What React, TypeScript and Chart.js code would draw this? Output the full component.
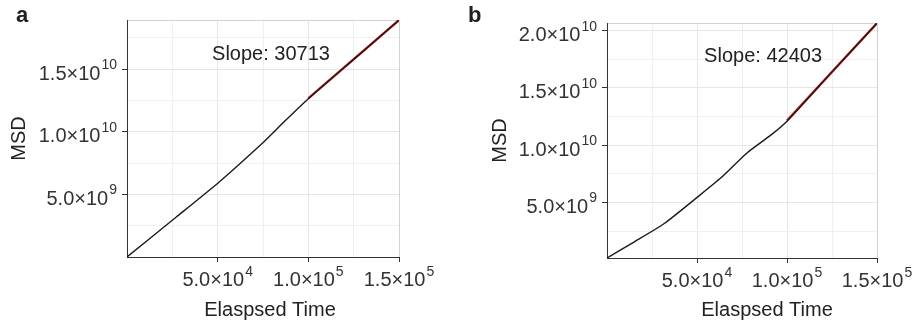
import React, { useEffect, useRef } from "react";
import { Chart, registerables } from "chart.js";

Chart.register(...registerables);

// ---- data ----
const timeA = [0, 27200, 50400, 63000, 75400, 81000, 86500, 100000, 125000, 150000];
const msdA = [0, 3.19e9, 5.93e9, 7.54e9, 9.18e9, 9.97e9, 1.077e10, 1.263e10, 1.577e10, 1.89e10];
const fitTimeA = [100000, 150000];
const fitMsdA = [1.265e10, 1.89e10];

const timeB = [0, 15200, 31800, 51300, 63300, 77600, 91000, 100000, 125000, 150000];
const msdB = [1.5e8, 1.56e9, 3.16e9, 5.6e9, 7.15e9, 9.3e9, 1.088e10, 1.21e10, 1.64e10, 2.065e10];
const fitTimeB = [100000, 150000];
const fitMsdB = [1.215e10, 2.065e10];

const xMajorTicks = [50000, 100000, 150000];
const yMajorTicksA = [5e9, 1e10, 1.5e10];
const yMajorTicksB = [5e9, 1e10, 1.5e10, 2e10];
const xGridStep = 25000;
const yGridStep = 2.5e9;
const xRange = [0, 150000];
const yRangeA = [0, 1.891e10];
const yRangeB = [1.5e8, 2.067e10];

const slopeTextA = "Slope: 30713";
const slopeTextB = "Slope: 42403";
const slopeAtA = [79400, 1.568e10];
const slopeAtB = [86700, 1.726e10];

const panelLetters = ["a", "b"];
const xTitle = "Elaspsed Time";
const yTitle = "MSD";

const FONT = '"Liberation Sans", Arial, Helvetica, sans-serif';

function drawSci(ctx: CanvasRenderingContext2D, v: number, x: number, baseline: number, align: string) {
  const e = Math.floor(Math.log10(v) + 1e-9);
  const m = (v / Math.pow(10, e)).toFixed(1);
  const base = m + "\u00d710";
  const exp = String(e);
  ctx.font = "20px " + FONT;
  const wb = ctx.measureText(base).width;
  ctx.font = "14px " + FONT;
  const we = ctx.measureText(exp).width;
  const total = wb + 1 + we;
  const x0 = align === "center" ? x - total / 2 : x - total;
  ctx.textAlign = "left";
  ctx.textBaseline = "alphabetic";
  ctx.font = "20px " + FONT;
  ctx.fillText(base, x0, baseline);
  ctx.font = "14px " + FONT;
  ctx.fillText(exp, x0 + wb + 1, baseline - 10.5);
}

const decor = {
  id: "decor",
  afterDraw(chart: any, _args: any, o: any) {
    const ctx: CanvasRenderingContext2D = chart.ctx;
    const { left, top, bottom } = chart.chartArea;
    const xs = chart.scales.x;
    const ys = chart.scales.y;
    ctx.save();
    ctx.fillStyle = "#333333";
    for (const v of o.xTicks) {
      drawSci(ctx, v, xs.getPixelForValue(v), bottom + 29, "center");
    }
    for (const v of o.yTicks) {
      drawSci(ctx, v, left - 10, ys.getPixelForValue(v) + 10.5, "right");
    }
    ctx.fillStyle = "#222222";
    ctx.font = "20px " + FONT;
    ctx.textAlign = "center";
    ctx.textBaseline = "alphabetic";
    ctx.fillText(o.slopeText, xs.getPixelForValue(o.slopeAt[0]), ys.getPixelForValue(o.slopeAt[1]));
    ctx.fillText(o.xTitle, o.xTitleX, 315.5);
    ctx.save();
    ctx.translate(o.yTitleX, (top + bottom) / 2);
    ctx.rotate(-Math.PI / 2);
    ctx.fillText(o.yTitle, 0, 7.2);
    ctx.restore();
    ctx.font = "bold 22px " + FONT;
    ctx.textAlign = "left";
    ctx.fillText(o.letter, o.letterX, 21.5);
    ctx.restore();
  },
};

function makeTicks(min: number, max: number, step: number) {
  const out: { value: number }[] = [];
  for (let v = Math.ceil(min / step) * step; v <= max + 1e-6 * step; v += step) out.push({ value: v });
  if (Math.abs(out[out.length - 1].value - max) > step * 1e-6) out.push({ value: max });
  if (out[0].value > min) out.unshift({ value: min });
  return out;
}

function buildConfig(p: any) {
  const isMajor = (v: number, majors: number[]) => majors.some((m) => Math.abs(m - v) < 1);
  const gridColor = (majors: number[], max: number) => (c: any) => {
    const v = c.tick ? c.tick.value : 0;
    if (Math.abs(v - max) < 1) return "#d2d2d2";
    return isMajor(v, majors) ? "#e6e6e6" : "#f0f0f0";
  };
  const tickColor = (majors: number[]) => (c: any) => {
    const v = c.tick ? c.tick.value : 0;
    return isMajor(v, majors) ? "#333333" : "rgba(0,0,0,0)";
  };
  return {
    type: "line",
    data: {
      datasets: [
        {
          data: p.time.map((t: number, i: number) => ({ x: t, y: p.msd[i] })),
          borderColor: "#1a1a1a",
          borderWidth: 1.4,
          pointRadius: 0,
          tension: 0.2,
          fill: false,
        },
        {
          data: p.fitTime.map((t: number, i: number) => ({ x: t, y: p.fitMsd[i] })),
          borderColor: "#d42020",
          borderWidth: 2.4,
          pointRadius: 0,
          tension: 0,
          fill: false,
        },
      ],
    },
    options: {
      animation: false,
      responsive: false,
      devicePixelRatio: 1,
      events: [],
      layout: { padding: p.padding },
      plugins: {
        legend: { display: false },
        tooltip: { enabled: false },
        decor: p.decor,
      },
      scales: {
        x: {
          type: "linear",
          min: xRange[0],
          max: xRange[1],
          afterBuildTicks: (s: any) => {
            s.ticks = makeTicks(xRange[0], xRange[1], xGridStep);
          },
          afterFit: (s: any) => {
            s.height = p.xHeight;
          },
          ticks: { display: false },
          grid: {
            color: gridColor(xMajorTicks, xRange[1]),
            tickColor: tickColor(xMajorTicks),
            tickLength: 5,
            lineWidth: 1,
          },
          border: { display: true, color: "#333333", width: 1 },
        },
        y: {
          type: "linear",
          min: p.yRange[0],
          max: p.yRange[1],
          afterBuildTicks: (s: any) => {
            s.ticks = makeTicks(p.yRange[0], p.yRange[1], yGridStep);
          },
          afterFit: (s: any) => {
            s.width = p.yWidth;
          },
          ticks: { display: false },
          grid: {
            color: gridColor(p.yMajors, p.yRange[1]),
            tickColor: tickColor(p.yMajors),
            tickLength: 5,
            lineWidth: 1,
          },
          border: { display: true, color: "#333333", width: 1 },
        },
      },
    },
    plugins: [decor],
  };
}

function Panel(props: { cfg: any; left: number; width: number }) {
  const ref = useRef<HTMLCanvasElement | null>(null);
  useEffect(() => {
    if (!ref.current) return;
    const chart = new Chart(ref.current, buildConfig(props.cfg) as any);
    return () => chart.destroy();
  }, []);
  return (
    <canvas
      ref={ref}
      width={props.width}
      height={322}
      style={{ position: "absolute", left: props.left, top: 0, width: props.width, height: 322, display: "block" }}
    />
  );
}

const cfgA = {
  time: timeA,
  msd: msdA,
  fitTime: fitTimeA,
  fitMsd: fitMsdA,
  yRange: yRangeA,
  yMajors: yMajorTicksA,
  padding: { left: 0, right: 60, top: 20, bottom: 0 },
  xHeight: 65,
  yWidth: 127,
  decor: {
    xTicks: xMajorTicks,
    yTicks: yMajorTicksA,
    slopeText: slopeTextA,
    slopeAt: slopeAtA,
    xTitle,
    yTitle,
    xTitleX: 270,
    yTitleX: 17.5,
    letter: panelLetters[0],
    letterX: 16,
  },
};

const cfgB = {
  time: timeB,
  msd: msdB,
  fitTime: fitTimeB,
  fitMsd: fitMsdB,
  yRange: yRangeB,
  yMajors: yMajorTicksB,
  padding: { left: 0, right: 42, top: 23, bottom: 0 },
  xHeight: 64,
  yWidth: 148,
  decor: {
    xTicks: xMajorTicks,
    yTicks: yMajorTicksB,
    slopeText: slopeTextB,
    slopeAt: slopeAtB,
    xTitle,
    yTitle,
    xTitleX: 308,
    yTitleX: 40,
    letter: panelLetters[1],
    letterX: 9,
  },
};

export default function App() {
  return (
    <div style={{ position: "absolute", left: 0, top: 0, width: 919, height: 322, background: "#ffffff", overflow: "hidden" }}>
      <Panel cfg={cfgA} left={0} width={459} />
      <Panel cfg={cfgB} left={459} width={460} />
    </div>
  );
}
